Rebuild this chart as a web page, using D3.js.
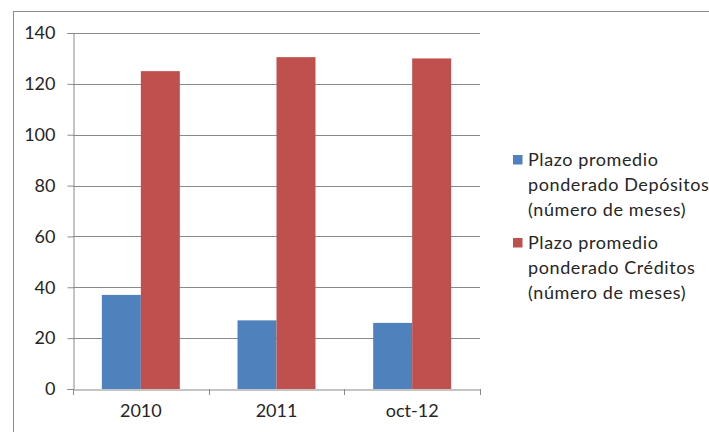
<!DOCTYPE html>
<html>
<head>
<meta charset="utf-8">
<script src="https://cdn.jsdelivr.net/npm/d3@7"></script>
<style>
  body { margin: 0; background: #fff; }
  text { font-family: Lato, "Open Sans", sans-serif; fill: #262626; }
</style>
</head>
<body>
<div id="chart"></div>
<script>
const categories = ["2010", "2011", "oct-12"];
const seriesNames = [
  ["Plazo promedio", "ponderado Depósitos", "(número de meses)"],
  ["Plazo promedio", "ponderado Créditos", "(número de meses)"]
];
const depositos = [37, 27, 26];
const creditos = [125, 130.5, 130];
const yTicks = [0, 20, 40, 60, 80, 100, 120, 140];
const colors = ["#4F81BD", "#C0504D"];

const width = 709, height = 432;
const margin = { top: 33, left: 73, right: 229, bottom: 43 };
const plotW = width - margin.left - margin.right;
const plotH = height - margin.top - margin.bottom;

const svg = d3.select("#chart").append("svg")
  .attr("width", width)
  .attr("height", height);

// borde del gráfico
svg.append("rect")
  .attr("x", 13.5).attr("y", 11.5)
  .attr("width", 720).attr("height", 440)
  .attr("fill", "none")
  .attr("stroke", "#8c8c8c")
  .attr("stroke-width", 1);

const g = svg.append("g")
  .attr("transform", "translate(" + margin.left + "," + margin.top + ")");

const x = d3.scaleBand()
  .domain(categories)
  .range([0, plotW]);

const x1 = d3.scaleBand()
  .domain([0, 1])
  .range([0, x.bandwidth()])
  .paddingInner(0)
  .paddingOuter(0.74);

const y = d3.scaleLinear()
  .domain([0, 140])
  .range([plotH, 0]);

// lignes de grille
g.selectAll(".grid")
  .data(yTicks.slice(1))
  .enter()
  .append("line")
  .attr("x1", 0)
  .attr("x2", plotW)
  .attr("y1", (d) => Math.round(y(d)) + 0.5)
  .attr("y2", (d) => Math.round(y(d)) + 0.5)
  .attr("stroke", "#8a8a8a")
  .attr("stroke-width", 1);

// barres
const rows = categories.map((c, i) => ({ cat: c, vals: [depositos[i], creditos[i]] }));
const groups = g.selectAll(".grp")
  .data(rows)
  .enter()
  .append("g")
  .attr("transform", (d) => "translate(" + x(d.cat) + ",0)");

groups.selectAll("rect")
  .data((d) => d.vals.map((v, k) => ({ v: v, k: k })))
  .enter()
  .append("rect")
  .attr("x", (d) => x1(d.k))
  .attr("y", (d) => y(d.v))
  .attr("width", x1.bandwidth())
  .attr("height", (d) => plotH - y(d.v))
  .attr("fill", (d) => colors[d.k]);

// axe Y
const yAxis = d3.axisLeft(y).tickValues(yTicks).tickSize(6).tickPadding(12);
const ya = g.append("g")
  .attr("transform", "translate(0.5,0)")
  .call(yAxis);
ya.select(".domain").attr("stroke", "#8a8a8a");
ya.selectAll(".tick line").attr("stroke", "#8a8a8a");
ya.selectAll(".tick text")
  .attr("font-size", 18)
  .attr("font-family", "Lato, sans-serif")
  .attr("fill", "#262626");

// axe X
const xa = g.append("g")
  .attr("transform", "translate(0," + (plotH + 0.5) + ")")
  .call(d3.axisBottom(x).tickSize(0).tickPadding(15));
xa.select(".domain").attr("stroke", "#8a8a8a");
xa.selectAll(".tick text")
  .attr("font-size", 18)
  .attr("font-family", "Lato, sans-serif")
  .attr("fill", "#262626");

// petites marques entre catégories
g.selectAll(".sep")
  .data(categories.map((c) => x(c)).concat([plotW]))
  .enter()
  .append("line")
  .attr("x1", (d) => Math.round(d) + 0.5)
  .attr("x2", (d) => Math.round(d) + 0.5)
  .attr("y1", plotH)
  .attr("y2", plotH + 6)
  .attr("stroke", "#8a8a8a");

// légende
const legend = svg.append("g").attr("transform", "translate(513,155)");
seriesNames.forEach((lines, i) => {
  const lg = legend.append("g").attr("transform", "translate(0," + i * 83 + ")");
  lg.append("rect")
    .attr("width", 9.5)
    .attr("height", 9.5)
    .attr("fill", colors[i]);
  lines.forEach((t, j) => {
    lg.append("text")
      .attr("x", 15)
      .attr("y", 11 + j * 25)
      .attr("font-size", 18)
      .attr("letter-spacing", 0.6)
      .text(t);
  });
});
</script>
</body>
</html>
